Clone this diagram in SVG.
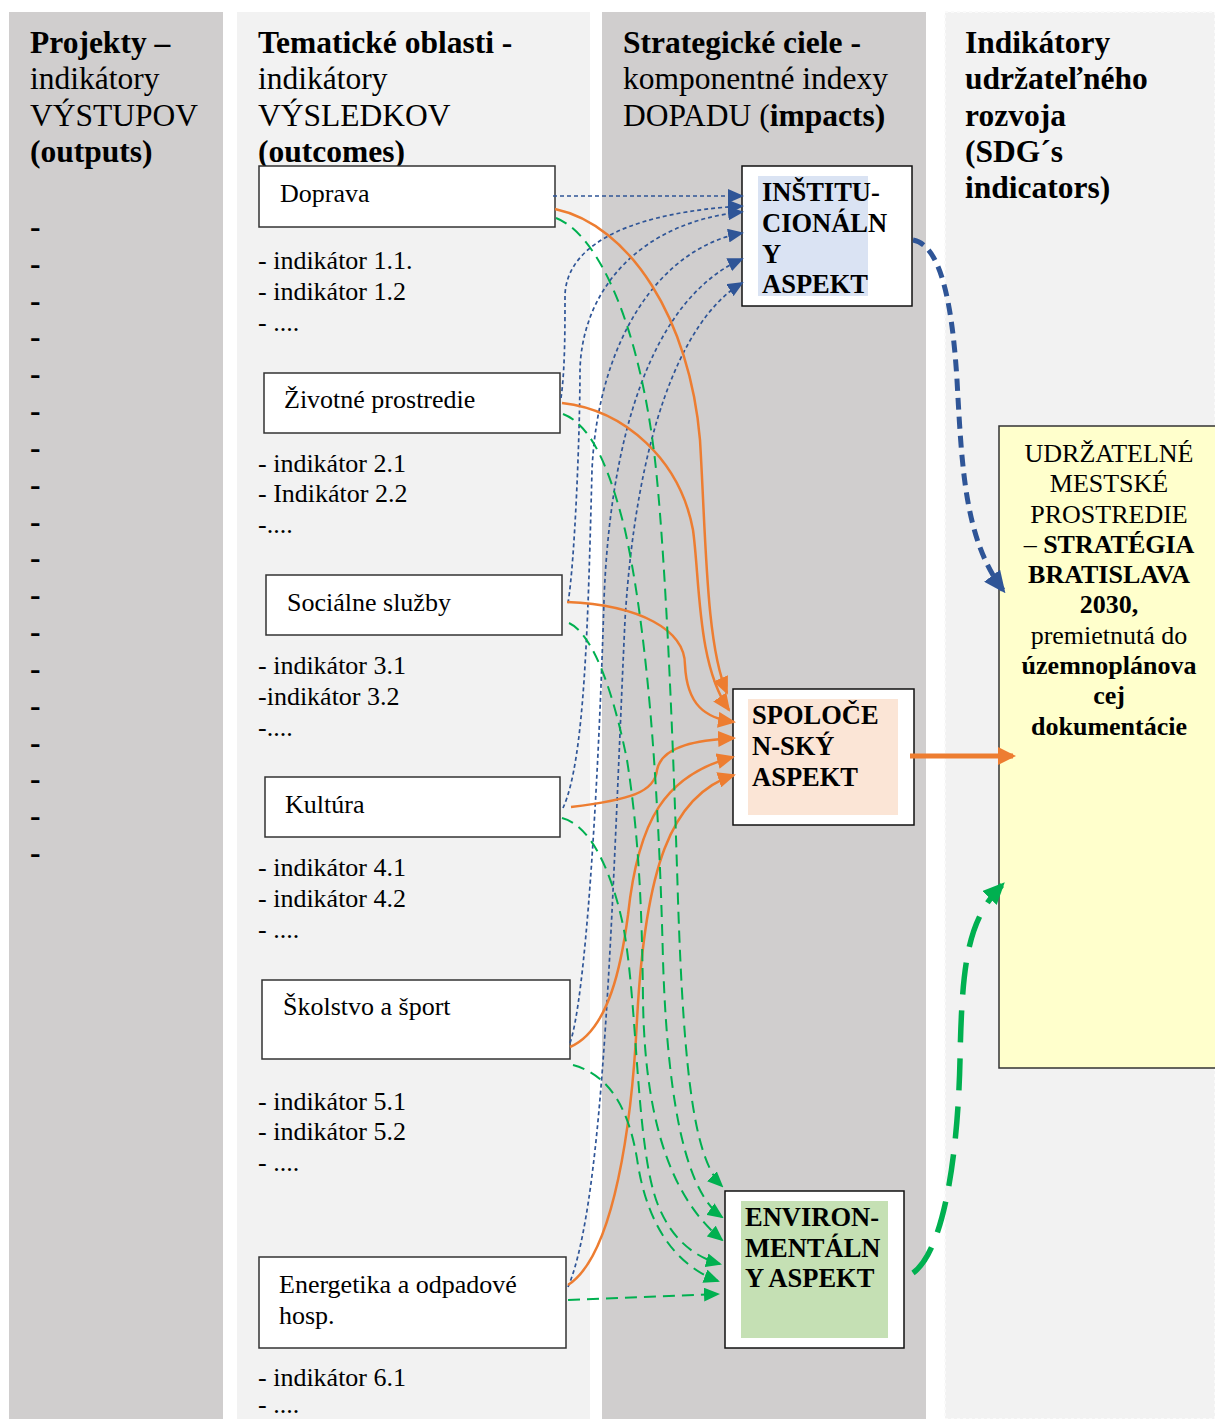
<svg xmlns="http://www.w3.org/2000/svg" width="1215" height="1419" viewBox="0 0 1215 1419">
<style>
text{font-family:"Liberation Serif","Times New Roman",serif;fill:#000}
.h{font-size:31.5px}
.b{font-weight:bold}
.lbl{font-size:26px}
.asp{font-size:26.5px;font-weight:bold}
.box{fill:#fff;stroke:#333;stroke-width:1.5}
.abox{fill:#fff;stroke:#111;stroke-width:1.5}
.bl{fill:none;stroke:#2f5597;stroke-width:1.7;stroke-dasharray:4 3;marker-end:url(#mb)}
.or{fill:none;stroke:#ed7d31;stroke-width:2.5;marker-end:url(#mo)}
.gr{fill:none;stroke:#00b050;stroke-width:2;stroke-dasharray:12 7;marker-end:url(#mg)}
</style>
<defs>
<marker id="mb" markerUnits="userSpaceOnUse" markerWidth="16" markerHeight="14" viewBox="0 0 16 14" refX="14" refY="7" orient="auto"><path d="M0,0 L16,7 L0,14 z" fill="#2f5597"/></marker>
<marker id="mo" markerUnits="userSpaceOnUse" markerWidth="18" markerHeight="16" viewBox="0 0 18 16" refX="16" refY="8" orient="auto"><path d="M0,0 L18,8 L0,16 z" fill="#ed7d31"/></marker>
<marker id="mg" markerUnits="userSpaceOnUse" markerWidth="16" markerHeight="14" viewBox="0 0 16 14" refX="14" refY="7" orient="auto"><path d="M0,0 L16,7 L0,14 z" fill="#00b050"/></marker>
<marker id="mbb" markerUnits="userSpaceOnUse" markerWidth="22" markerHeight="20" viewBox="0 0 22 20" refX="18" refY="10" orient="auto"><path d="M0,0 L22,10 L0,20 z" fill="#2f5597"/></marker>
<marker id="mob" markerUnits="userSpaceOnUse" markerWidth="18" markerHeight="18" viewBox="0 0 18 18" refX="15" refY="9" orient="auto"><path d="M0,0 L18,9 L0,18 z" fill="#ed7d31"/></marker>
<marker id="mgb" markerUnits="userSpaceOnUse" markerWidth="22" markerHeight="20" viewBox="0 0 22 20" refX="18" refY="10" orient="auto"><path d="M0,0 L22,10 L0,20 z" fill="#00b050"/></marker>
</defs>
<rect width="1215" height="1419" fill="#fff"/>
<g id="columns">
<rect x="9" y="12" width="214" height="1407" fill="#d0cece"/>
<rect x="237" y="12" width="353" height="1407" fill="#f2f2f2"/>
<rect x="602" y="12" width="324" height="1407" fill="#d0cece"/>
<rect x="945" y="12" width="270" height="1407" fill="#f2f2f2" stroke="#fafafa" stroke-width="2" stroke-dasharray="3 3"/>
</g>
<g id="col1-header">
<text x="30" y="53" class="h b">Projekty –</text>
<text x="30" y="89" class="h">indikátory</text>
<text x="30" y="126" class="h">VÝSTUPOV</text>
<text x="30" y="162" class="h b">(outputs)</text>
</g>
<g id="col1-dashes">
<text x="30" y="237" class="h b">-</text>
<text x="30" y="274" class="h b">-</text>
<text x="30" y="311" class="h b">-</text>
<text x="30" y="347" class="h b">-</text>
<text x="30" y="384" class="h b">-</text>
<text x="30" y="421" class="h b">-</text>
<text x="30" y="458" class="h b">-</text>
<text x="30" y="495" class="h b">-</text>
<text x="30" y="532" class="h b">-</text>
<text x="30" y="568" class="h b">-</text>
<text x="30" y="605" class="h b">-</text>
<text x="30" y="642" class="h b">-</text>
<text x="30" y="679" class="h b">-</text>
<text x="30" y="716" class="h b">-</text>
<text x="30" y="753" class="h b">-</text>
<text x="30" y="789" class="h b">-</text>
<text x="30" y="826" class="h b">-</text>
<text x="30" y="863" class="h b">-</text>
</g>
<g id="col2-header">
<text x="258" y="53" class="h b">Tematické oblasti -</text>
<text x="258" y="89" class="h">indikátory</text>
<text x="258" y="126" class="h">VÝSLEDKOV</text>
<text x="258" y="162" class="h b">(outcomes)</text>
</g>
<g id="col3-header">
<text x="623" y="53" class="h b">Strategické ciele -</text>
<text x="623" y="89" class="h">komponentné indexy</text>
<text x="623" y="126" class="h">DOPADU (<tspan class="b">impacts)</tspan></text>
</g>
<g id="col4-header">
<text x="965" y="53" class="h b">Indikátory</text>
<text x="965" y="89" class="h b">udržateľného</text>
<text x="965" y="126" class="h b">rozvoja</text>
<text x="965" y="162" class="h b">(SDG´s</text>
<text x="965" y="198" class="h b">indicators)</text>
</g>
<g id="indicators">
<text x="258" y="269" class="lbl">- indikátor 1.1.</text>
<text x="258" y="300" class="lbl">- indikátor 1.2</text>
<text x="258" y="331" class="lbl">- ....</text>
<text x="258" y="472" class="lbl">- indikátor 2.1</text>
<text x="258" y="502" class="lbl">- Indikátor 2.2</text>
<text x="258" y="533" class="lbl">-....</text>
<text x="258" y="674" class="lbl">- indikátor 3.1</text>
<text x="258" y="705" class="lbl">-indikátor 3.2</text>
<text x="258" y="736" class="lbl">-....</text>
<text x="258" y="876" class="lbl">- indikátor 4.1</text>
<text x="258" y="907" class="lbl">- indikátor 4.2</text>
<text x="258" y="938" class="lbl">- ....</text>
<text x="258" y="1110" class="lbl">- indikátor 5.1</text>
<text x="258" y="1140" class="lbl">- indikátor 5.2</text>
<text x="258" y="1171" class="lbl">- ....</text>
<text x="258" y="1386" class="lbl">- indikátor 6.1</text>
<text x="258" y="1413" class="lbl">- ....</text>
</g>
<g id="doprava"><rect class="box" x="259" y="166" width="296" height="61"/><text x="280" y="202" class="lbl">Doprava</text></g>
<g id="zivotne"><rect class="box" x="264" y="373" width="296" height="60"/><text x="284" y="408" class="lbl">Životné prostredie</text></g>
<g id="socialne"><rect class="box" x="266" y="575" width="296" height="60"/><text x="287" y="611" class="lbl">Sociálne služby</text></g>
<g id="kultura"><rect class="box" x="265" y="777" width="295" height="60"/><text x="285" y="813" class="lbl">Kultúra</text></g>
<g id="skolstvo"><rect class="box" x="262" y="980" width="308" height="79"/><text x="283" y="1015" class="lbl">Školstvo a šport</text></g>
<g id="energetika"><rect class="box" x="259" y="1257" width="307" height="91"/><text x="279" y="1293" class="lbl">Energetika a odpadové</text><text x="279" y="1324" class="lbl">hosp.</text></g>
<g id="institucionalny">
<rect class="abox" x="742" y="166" width="170" height="140"/>
<rect x="758" y="176" width="110" height="120" fill="#dae3f3"/>
<text x="762" y="201" class="asp">INŠTITU-</text>
<text x="762" y="232" class="asp">CIONÁLN</text>
<text x="762" y="263" class="asp">Y</text>
<text x="762" y="293" class="asp">ASPEKT</text>
</g>
<g id="spolocensky">
<rect class="abox" x="733" y="689" width="181" height="136"/>
<rect x="748" y="699" width="150" height="116" fill="#fbe5d6"/>
<text x="752" y="724" class="asp">SPOLOČE</text>
<text x="752" y="755" class="asp">N-SKÝ</text>
<text x="752" y="786" class="asp">ASPEKT</text>
</g>
<g id="environmentalny">
<rect class="abox" x="725" y="1191" width="179" height="157"/>
<rect x="741" y="1201" width="147" height="137" fill="#c5e0b4"/>
<text x="745" y="1226" class="asp">ENVIRON-</text>
<text x="745" y="1257" class="asp">MENTÁLN</text>
<text x="745" y="1287" class="asp">Y ASPEKT</text>
</g>
<g id="strategia">
<rect x="999" y="426" width="222" height="642" fill="#ffffcc" stroke="#333" stroke-width="1.5"/>
<g text-anchor="middle">
<text x="1109" y="462" class="lbl">UDRŽATELNÉ</text>
<text x="1109" y="492" class="lbl">MESTSKÉ</text>
<text x="1109" y="523" class="lbl">PROSTREDIE</text>
<text x="1109" y="553" class="lbl">– <tspan class="b">STRATÉGIA</tspan></text>
<text x="1109" y="583" class="lbl b">BRATISLAVA</text>
<text x="1109" y="613" class="lbl b">2030,</text>
<text x="1109" y="644" class="lbl">premietnutá do</text>
<text x="1109" y="674" class="lbl b">územnoplánova</text>
<text x="1109" y="704" class="lbl b">cej</text>
<text x="1109" y="735" class="lbl b">dokumentácie</text>
</g>
</g>
<g id="connectors">
<path class="bl" d="M553,196 L742,196"/>
<path class="bl" d="M561,398 C565,370 565,330 565,295 C567,240 640,212 742,206"/>
<path class="bl" d="M568,603 C575,560 580,430 580,370 C582,290 640,222 742,212"/>
<path class="bl" d="M563,808 C585,760 588,620 592,470 C598,340 660,248 742,233"/>
<path class="bl" d="M570,1043 C585,1000 598,800 604,600 C610,440 650,300 742,259"/>
<path class="bl" d="M568,1287 C605,1200 612,900 625,620 C636,440 680,320 742,283"/>
<path class="or" d="M555,209 C630,225 690,320 700,440 C706,540 706,645 727,693"/>
<path class="or" d="M562,403 C625,410 680,460 693,530 C700,580 697,665 729,710"/>
<path class="or" d="M567,602 C640,605 685,630 685,665 C687,705 705,718 734,722"/>
<path class="or" d="M571,807 C630,800 655,792 657,770 C662,745 700,740 734,738"/>
<path class="or" d="M570,1047 C610,1030 622,960 628,915 C638,820 665,775 733,757"/>
<path class="or" d="M568,1285 C615,1255 632,1120 637,1020 C645,870 670,795 734,775"/>
<path class="gr" d="M556,218 C600,235 640,330 655,460 C664,540 672,700 678,900 C684,1080 695,1160 722,1186"/>
<path class="gr" d="M563,414 C592,425 610,470 625,530 C645,620 658,760 663,960 C668,1120 690,1195 722,1217"/>
<path class="gr" d="M569,623 C595,635 615,700 627,760 C638,830 642,900 643,1000 C645,1140 680,1205 722,1240"/>
<path class="gr" d="M562,818 C590,825 612,870 624,930 C638,1010 636,1150 658,1205 C672,1240 695,1257 720,1264"/>
<path class="gr" d="M573,1065 C610,1075 630,1110 638,1165 C648,1225 675,1265 718,1281"/>
<path class="gr" d="M568,1300 L718,1294"/>
<path d="M913,240 C940,245 952,300 957,380 C962,470 965,540 1003,590" fill="none" stroke="#2f5597" stroke-width="5" stroke-dasharray="12 7" marker-end="url(#mbb)"/>
<path d="M910,756 L1013,756" fill="none" stroke="#ed7d31" stroke-width="5" marker-end="url(#mob)"/>
<path d="M913,1273 C945,1250 958,1150 960,1060 C962,960 968,920 1002,885" fill="none" stroke="#00b050" stroke-width="5.5" stroke-dasharray="32 16" marker-end="url(#mgb)"/>
</g>
</svg>
